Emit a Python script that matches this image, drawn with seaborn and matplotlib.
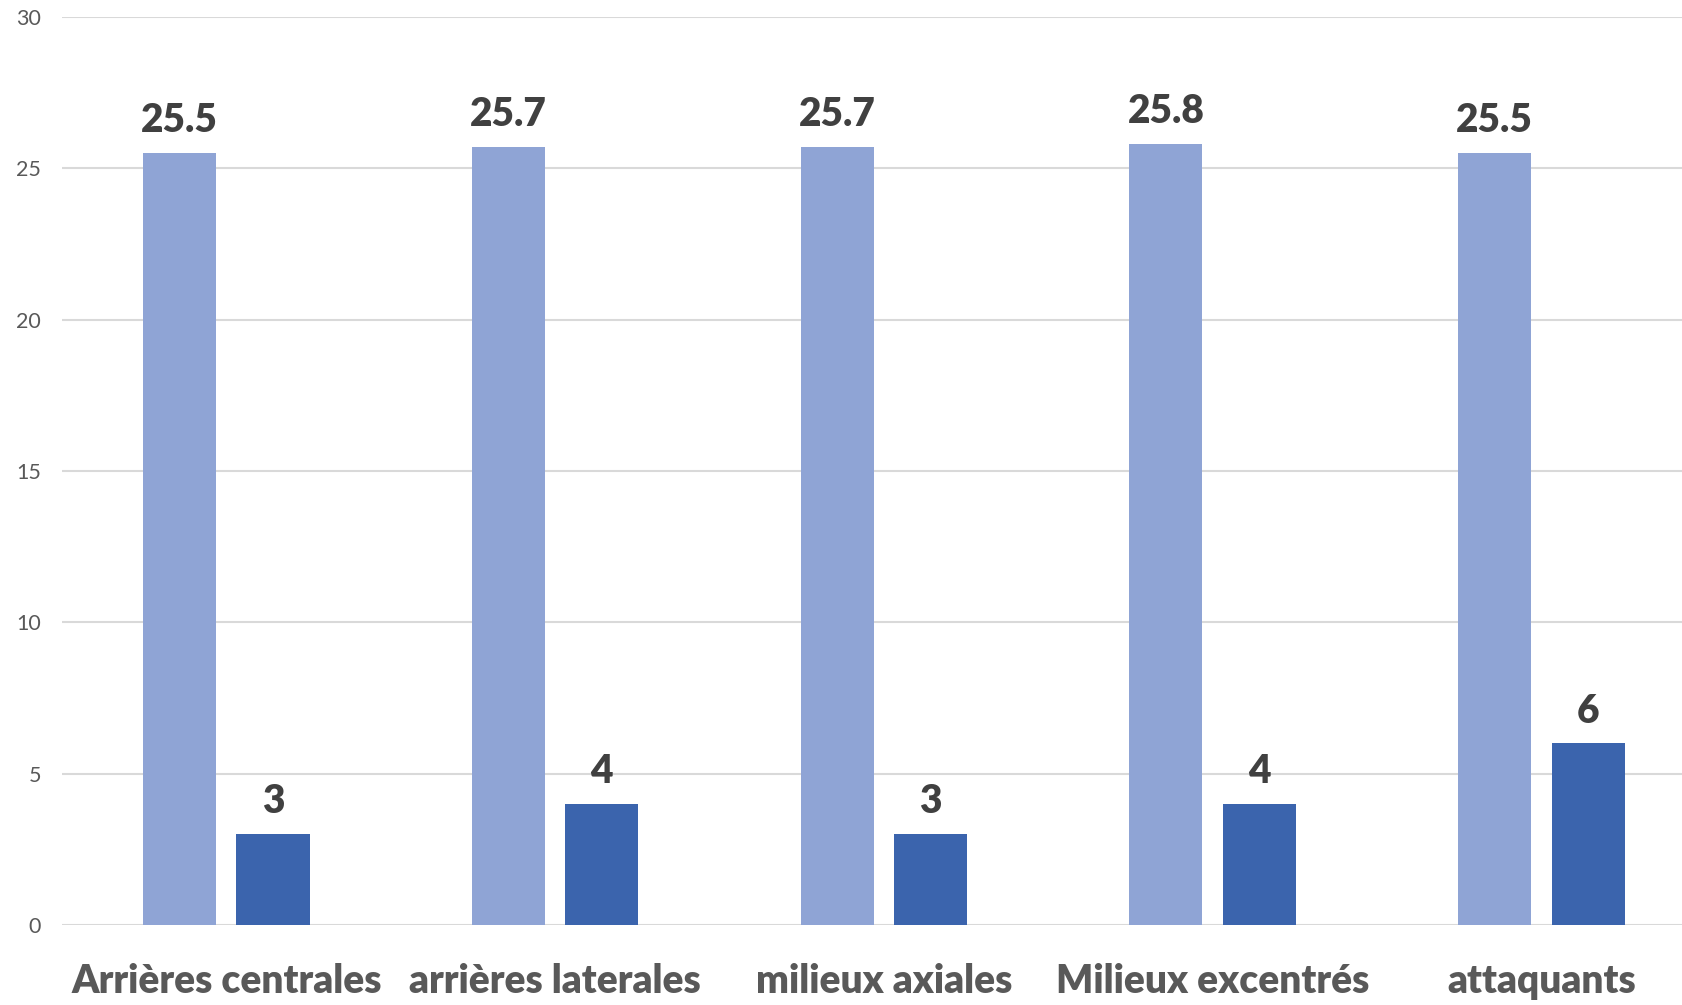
import matplotlib
matplotlib.use("Agg")
import matplotlib.pyplot as plt
import seaborn as sns
import pandas as pd

# Categories and the two series
categories = ["Arrières centrales", "arrières laterales", "milieux axiales",
              "Milieux excentrés", "attaquants"]
serie_a = [25.5, 25.7, 25.7, 25.8, 25.5]
serie_b = [3, 4, 3, 4, 6]
series_names = ["Âge moyen", "Effectif"]
y_ticks = [0, 5, 10, 15, 20, 25, 30]

df = pd.DataFrame({
    "poste": categories * 2,
    "valeur": serie_a + serie_b,
    "serie": [series_names[0]] * len(categories) + [series_names[1]] * len(categories),
})

sns.set_theme(style="white")
plt.rcParams["font.family"] = ["Lato", "DejaVu Sans"]

fig = plt.figure(figsize=(16.83, 10.05), dpi=100)
ax = fig.add_axes([0.0368, 0.0796, 0.9767, 0.9035])

sns.barplot(data=df, x="poste", y="valeur", hue="serie", order=categories,
            hue_order=series_names, palette=["#8FA4D5", "#3B64AD"],
            width=0.568, gap=0.218, saturation=1, legend=False, ax=ax,
            errorbar=None, linewidth=0)

ax.set_ylim(0, 30)
ax.set_yticks(y_ticks)
ax.set_xlim(-0.5, len(categories) - 0.5)
ax.yaxis.grid(True, color="#D9D9D9", linewidth=1.5)
ax.set_axisbelow(True)
for s in ax.spines.values():
    s.set_visible(False)
ax.tick_params(axis="both", length=0)
ax.tick_params(axis="y", labelsize=15.5, labelcolor="#595959", pad=15)
ax.tick_params(axis="x", labelsize=28, labelcolor="#595959", pad=27)
for lbl in ax.get_xticklabels():
    lbl.set_fontweight("heavy")
ax.set_xlabel("")
ax.set_ylabel("")

for cont in ax.containers:
    ax.bar_label(cont, fmt="{:g}", padding=10, fontsize=28,
                 fontweight="heavy", color="#404040")

fig.savefig("out.png", dpi=100)
